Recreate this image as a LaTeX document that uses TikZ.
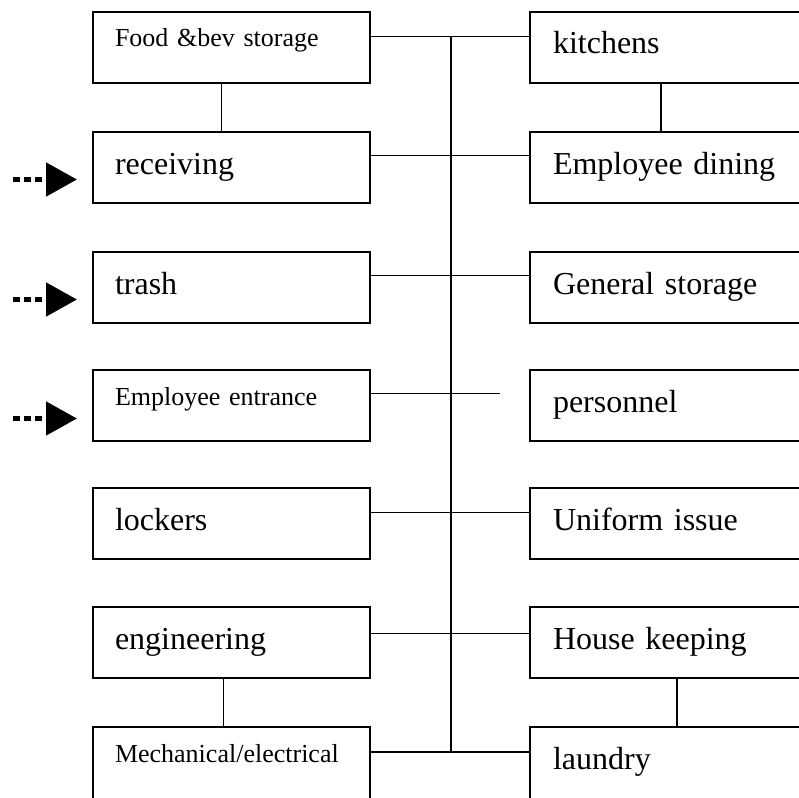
\documentclass[tikz,border=0pt]{standalone}
\usepackage{fontspec}
\setmainfont{Liberation Serif}
\usetikzlibrary{arrows.meta}

\begin{document}
\begin{tikzpicture}[x=1pt, y=-1pt,
    room/.style={draw, rectangle, line width=1.6pt, anchor=north west, outer sep=0pt,
      minimum width=277pt, minimum height=71pt, text width=233pt, inner xsep=22pt, inner ysep=0pt,
      align=left, font=\fontsize{32}{36}\selectfont, text height=24pt, text depth=11pt},
    small/.style={font=\fontsize{26}{30}\selectfont, text height=17pt, text depth=18pt},
    far/.style={minimum width=300pt, text width=254pt, inner xsep=23pt},
    cut/.style={minimum height=91pt, text depth=31pt},
    cutsmall/.style={minimum height=91pt, text depth=38pt},
    link/.style={line width=1.4pt},
    feed/.style={line width=5pt, dash pattern=on 7pt off 4pt, -{Triangle[length=31pt,width=33pt]}}]
    \useasboundingbox (0,0) rectangle (799,797);
    \clip (0,0) rectangle (799,797);

    \node[room, small] (food) at (93, 12) {Food \&bev storage};
    \node[room] (recv) at (93, 132) {receiving};
    \node[room] (trash) at (93, 252) {trash};
    \node[room, small] (entr) at (93, 370) {Employee entrance};
    \node[room] (lock) at (93, 488) {lockers};
    \node[room] (eng) at (93, 607) {engineering};
    \node[room, small, cutsmall] (mech) at (93, 727) {Mechanical/electrical};

    \node[room, far] (kitch) at (530, 12) {kitchens};
    \node[room, far] (dining) at (530, 132) {Employee dining};
    \node[room, far] (gstore) at (530, 252) {General storage};
    \node[room, far] (pers) at (530, 370) {personnel};
    \node[room, far] (unif) at (530, 488) {Uniform issue};
    \node[room, far] (hkeep) at (530, 607) {House keeping};
    \node[room, far, cut] (laund) at (530, 727) {laundry};

    % main corridor
    \coordinate (bustop) at (451, 37);
    \coordinate (busbot) at (451, 752);
    \draw [link] (bustop) -- (busbot);

    \draw [link] ([yshift=11pt]food.east) -- ([yshift=11pt]kitch.west);
    \draw [link] ([yshift=12pt]recv.east) -- ([yshift=12pt]dining.west);
    \draw [link] ([yshift=12pt]trash.east) -- ([yshift=12pt]gstore.west);
    \coordinate (persend) at ([xshift=-30pt, yshift=12pt]pers.west);
    \draw [link] ([yshift=12pt]entr.east) -- (persend);
    \draw [link] ([yshift=11pt]lock.east) -- ([yshift=11pt]unif.west);
    \draw [link] ([yshift=9pt]eng.east) -- ([yshift=9pt]hkeep.west);
    \draw [link] (mech.east |- busbot) -- (laund.west |- busbot);

    \draw [link] ([xshift=-10pt]food.south) -- ([xshift=-10pt]recv.north);
    \draw [link] ([xshift=-8pt]eng.south) -- ([xshift=-8pt]mech.north);
    \draw [link] ([xshift=-19pt]kitch.south) -- ([xshift=-19pt]dining.north);
    \draw [link] ([xshift=-3pt]hkeep.south) -- ([xshift=-3pt]laund.north);

    % ways in
    \draw [feed] ([shift={(-80pt,-12pt)}]recv.west) -- ([shift={(-16pt,-12pt)}]recv.west);
    \draw [feed] ([shift={(-80pt,-12pt)}]trash.west) -- ([shift={(-16pt,-12pt)}]trash.west);
    \draw [feed] ([shift={(-80pt,-13pt)}]entr.west) -- ([shift={(-16pt,-13pt)}]entr.west);
\end{tikzpicture}
\end{document}
